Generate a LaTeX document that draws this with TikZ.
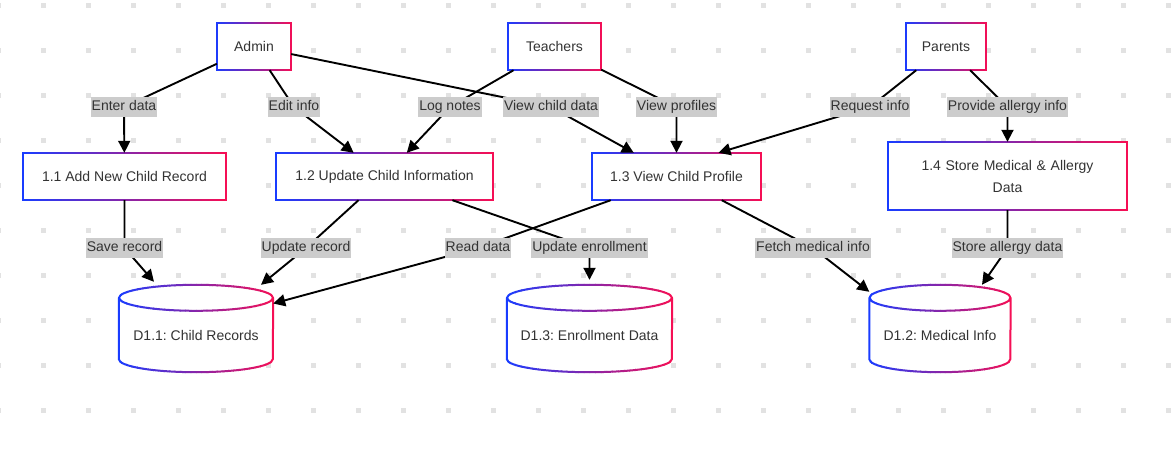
\documentclass[tikz,border=0pt]{standalone}
\usepackage{fontspec}
\setmainfont{Liberation Sans}
\frenchspacing
\usetikzlibrary{calc}
\usetikzlibrary{arrows.meta}
\pgfdeclarelayer{bg}
\pgfsetlayers{bg,main}
\definecolor{rimblue}{RGB}{25,60,255}
\definecolor{rimred}{RGB}{245,15,85}
\definecolor{txt}{HTML}{333333}
\definecolor{labfill}{HTML}{CCCCCC}
\definecolor{dotc}{HTML}{E2E2E2}
\newcommand\diafont{\fontsize{14pt}{22pt}\selectfont}
\tikzset{ent/.style={rectangle,inner sep=0pt,minimum height=47pt,text=txt,font=\diafont}}
\tikzset{store/.style={rectangle,inner sep=0pt,minimum height=87pt,text height=26pt,text depth=3pt,text=txt,font=\diafont}}
\tikzset{lab/.style={fill=labfill,text=txt,inner xsep=1pt,inner ysep=3pt,text height=11pt,text depth=3.5pt,font=\diafont}}
\tikzset{flow/.style={->,line width=1.9pt}}
\tikzset{rim/.style={line width=2pt}}
\tikzset{>={Triangle[length=12pt,width=12pt]}}
% gradient border, drawn in thin vertical slices
\newcommand\rimshade[2]{%
  \begin{pgfonlayer}{bg}\fill[white] #2;\end{pgfonlayer}
  \foreach \k in {0,...,29}{%
    \pgfmathtruncatemacro\pct{round(100*\k/29)}%
    \begin{scope}
      \clip ($([xshift=-3pt]#1.west)!\k/30!([xshift=3pt]#1.east)+(0,-60pt)$) rectangle ($([xshift=-3pt]#1.west)!{(\k+1)/30}!([xshift=3pt]#1.east)+(0.6pt,60pt)$);
      \draw[rim, draw=rimred!\pct!rimblue] #2;
    \end{scope}}}
\newcommand\boxrim[1]{\rimshade{#1}{(#1.north west) rectangle (#1.south east)}}
\newcommand\cylrim[2]{\rimshade{#1}{([yshift=-13pt]#1.north west) -- ([yshift=13pt]#1.south west) arc[start angle=180,end angle=360,x radius=#2,y radius=13pt] -- ([yshift=-13pt]#1.north east) ([yshift=-13pt]#1.north) ellipse[x radius=#2,y radius=13pt]}}

\begin{document}
\begin{tikzpicture}[x=1pt, y=1pt]
    \useasboundingbox (0,0) rectangle (1171,-453);
    % dotted background
    \begin{pgfonlayer}{bg}
    \foreach \gx in {0,...,26}
        \foreach \gy in {0,...,9}
            \fill[dotc] (-4.5+45*\gx,-2.5-45*\gy) rectangle ++(5,-5);
    \end{pgfonlayer}

    \node[ent, minimum width=74pt] (Admin) at (254,-46.5) {Admin};
    \node[ent, minimum width=93pt] (Teach) at (554.5,-46.5) {Teachers};
    \node[ent, minimum width=80pt] (Par) at (946,-46.5) {Parents};
    \node[ent, minimum width=203pt] (P11) at (124.5,-176.5) {1.1 Add New Child Record};
    \node[ent, minimum width=217pt] (P12) at (384.5,-176.5) {1.2 Update Child Information};
    \node[ent, minimum width=169pt] (P13) at (676.5,-176.5) {1.3 View Child Profile};
    \node[ent, minimum width=239pt, minimum height=68pt, text width=200pt, align=center] (P14) at (1007.5,-176) {1.4 Store Medical \& Allergy\\Data};
    \node[store, minimum width=154pt] (D11) at (196,-328.5) {D1.1: Child Records};
    \node[store, minimum width=165pt] (D13) at (589.5,-328.5) {D1.3: Enrollment Data};
    \node[store, minimum width=141pt] (D12) at (940,-328.5) {D1.2: Medical Info};

    \boxrim{Admin}
    \boxrim{Teach}
    \boxrim{Par}
    \boxrim{P11}
    \boxrim{P12}
    \boxrim{P13}
    \boxrim{P14}
    \cylrim{D11}{77pt}
    \cylrim{D13}{82.5pt}
    \cylrim{D12}{70.5pt}

    \draw[flow] (Admin) -- (124,-107) node[lab] (eEnter) {Enter data} -- (P11);
    \draw[flow] (Admin) -- (294,-107) node[lab] (eEdit) {Edit info} -- (P12);
    \draw[flow] (Admin) -- (551,-107) node[lab] (eView) {View child data} -- (P13);
    \draw[flow] (Teach) -- (450,-107) node[lab] (eLog) {Log notes} -- (P12);
    \draw[flow] (Teach) -- (676.5,-107) node[lab] (eProf) {View profiles} -- (P13);
    \draw[flow] (Par) -- (870,-107) node[lab] (eReq) {Request info} -- ([xshift=42pt]P13.north);
    \draw[flow] (Par) -- (1007.5,-107) node[lab] (eAll) {Provide allergy info} -- (P14);
    \draw[flow] (P11) -- (124.5,-248) node[lab] (eSave) {Save record} -- ([xshift=-42pt,yshift=3pt]D11.north);
    \draw[flow] (P12) -- (306,-248) node[lab] (eUpd) {Update record} -- ([xshift=65pt]D11.north);
    \draw[flow] (P13) -- (478,-248) node[lab] (eRead) {Read data} -- ([yshift=25pt]D11.east);
    \draw[flow] (P12) -- (589.5,-248) node[lab] (eEnr) {Update enrollment} -- ([yshift=5pt]D13.north);
    \draw[flow] (P13) -- (813,-248) node[lab] (eFetch) {Fetch medical info} -- ([yshift=-7pt]D12.north west);
    \draw[flow] (P14) -- (1007.5,-248) node[lab] (eStore) {Store allergy data} -- ([xshift=42pt]D12.north);
\end{tikzpicture}
\end{document}
